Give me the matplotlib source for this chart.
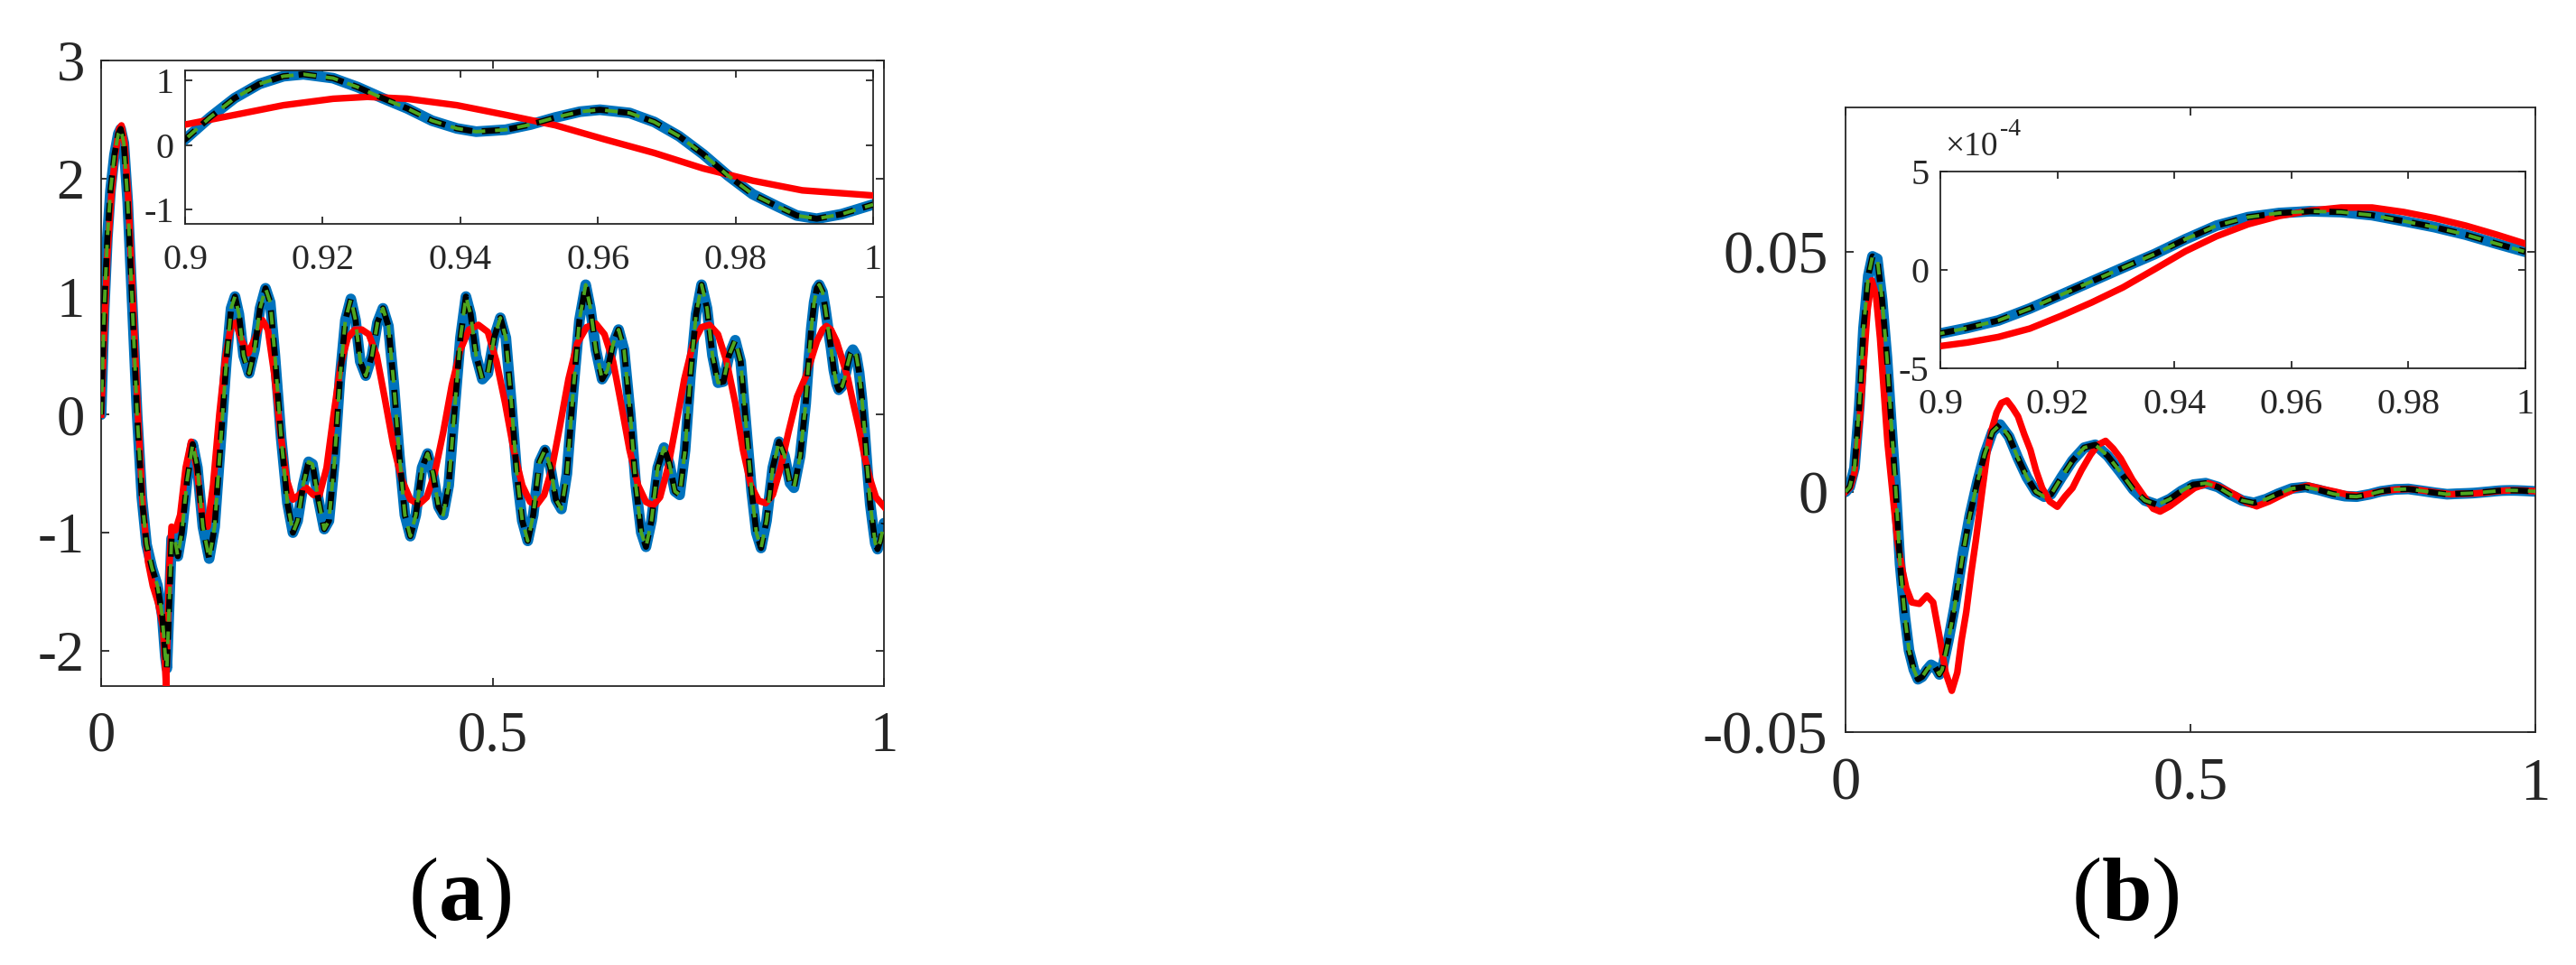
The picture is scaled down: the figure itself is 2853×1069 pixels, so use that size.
import numpy as np
import matplotlib
matplotlib.use('Agg')
import matplotlib.pyplot as plt
from matplotlib.ticker import FixedLocator, FuncFormatter

plt.rcParams['font.family'] = ['Liberation Serif', 'DejaVu Serif']
plt.rcParams['axes.unicode_minus'] = False
plt.rcParams['mathtext.fontset'] = 'custom'
plt.rcParams['mathtext.rm'] = 'Liberation Serif'
plt.rcParams['mathtext.bf'] = 'Liberation Serif:bold'

# ---------------- data: panel (a) ----------------
x_a_ref = [0.000, 0.004, 0.008, 0.012, 0.017, 0.022, 0.025, 0.029, 0.034, 0.040,
           0.046, 0.052, 0.058, 0.065, 0.072, 0.078, 0.082, 0.084, 0.087, 0.090,
           0.094, 0.098, 0.103, 0.110, 0.117, 0.123, 0.130, 0.138, 0.145, 0.152,
           0.160, 0.166, 0.171, 0.176, 0.182, 0.189, 0.196, 0.203, 0.210, 0.216,
           0.222, 0.230, 0.238, 0.245, 0.251, 0.258, 0.265, 0.270, 0.277, 0.285,
           0.291, 0.298, 0.305, 0.312, 0.319, 0.325, 0.331, 0.338, 0.346, 0.353,
           0.360, 0.367, 0.374, 0.381, 0.388, 0.395, 0.402, 0.410, 0.417, 0.424,
           0.431, 0.437, 0.444, 0.451, 0.459, 0.466, 0.472, 0.479, 0.487, 0.494,
           0.502, 0.510, 0.517, 0.524, 0.531, 0.538, 0.545, 0.552, 0.560, 0.567,
           0.574, 0.581, 0.588, 0.595, 0.603, 0.611, 0.619, 0.625, 0.632, 0.640,
           0.647, 0.654, 0.661, 0.668, 0.676, 0.683, 0.690, 0.696, 0.703, 0.711,
           0.719, 0.726, 0.733, 0.739, 0.746, 0.753, 0.760, 0.767, 0.774, 0.781,
           0.788, 0.795, 0.802, 0.810, 0.817, 0.824, 0.831, 0.837, 0.843, 0.850,
           0.858, 0.866, 0.873, 0.880, 0.885, 0.893,
           0.9000, 0.9036, 0.9072, 0.9108, 0.9143, 0.9172, 0.9215, 0.9251, 0.9287,
           0.9323, 0.9359, 0.9395, 0.9423, 0.9466, 0.9502, 0.9538, 0.9574, 0.9603,
           0.9646, 0.9682, 0.9718, 0.9753, 0.9789, 0.9825, 0.9861, 0.9889, 0.9918,
           0.9954, 1.0000]
y_a_ref = [0.00, 0.90, 1.50, 1.90, 2.20, 2.38, 2.42, 2.30, 1.80, 0.90,
           0.00, -0.70, -1.10, -1.30, -1.45, -1.70, -2.05, -2.15, -1.60, -1.05,
           -1.05, -1.20, -1.00, -0.55, -0.25, -0.45, -0.95, -1.22, -0.95, -0.30,
           0.45, 0.90, 1.00, 0.85, 0.50, 0.35, 0.55, 0.90, 1.07, 0.95,
           0.50, -0.20, -0.75, -1.00, -0.90, -0.60, -0.40, -0.42, -0.70, -0.97,
           -0.90, -0.40, 0.30, 0.80, 0.98, 0.80, 0.45, 0.33, 0.50, 0.78,
           0.90, 0.75, 0.25, -0.35, -0.85, -1.03, -0.85, -0.45, -0.33, -0.50,
           -0.78, -0.85, -0.60, 0.00, 0.65, 1.00, 0.85, 0.50, 0.30, 0.35,
           0.65, 0.82, 0.65, 0.10, -0.50, -0.90, -1.07, -0.85, -0.40, -0.30,
           -0.45, -0.72, -0.80, -0.50, 0.20, 0.80, 1.10, 0.90, 0.55, 0.30,
           0.38, 0.60, 0.72, 0.55, 0.00, -0.60, -1.00, -1.12, -0.90, -0.45,
           -0.28, -0.42, -0.65, -0.68, -0.30, 0.35, 0.85, 1.10, 0.90, 0.50,
           0.27, 0.28, 0.50, 0.63, 0.45, -0.10, -0.65, -1.00, -1.13, -0.90,
           -0.45, -0.23, -0.35, -0.58, -0.62, -0.35,
           0.09, 0.43, 0.73, 0.95, 1.07, 1.10, 1.04, 0.90, 0.73,
           0.57, 0.38, 0.26, 0.21, 0.24, 0.32, 0.43, 0.52, 0.55,
           0.50, 0.36, 0.14, -0.14, -0.47, -0.76, -0.95, -1.09, -1.14,
           -1.07, -0.92]

x_a_red = [0.000, 0.004, 0.008, 0.013, 0.018, 0.023, 0.026, 0.030, 0.035, 0.041,
           0.047, 0.053, 0.060, 0.066, 0.073, 0.079, 0.083, 0.087, 0.090, 0.095,
           0.101, 0.108, 0.115, 0.122, 0.129, 0.136, 0.143, 0.151, 0.159, 0.166,
           0.172, 0.180, 0.188, 0.197, 0.206, 0.213, 0.221, 0.229, 0.237, 0.245,
           0.253, 0.262, 0.271, 0.279, 0.288, 0.297, 0.306, 0.315, 0.324, 0.333,
           0.342, 0.352, 0.362, 0.373, 0.384, 0.395, 0.406, 0.416, 0.426, 0.437,
           0.448, 0.459, 0.470, 0.482, 0.494, 0.505, 0.516, 0.527, 0.538, 0.548,
           0.557, 0.566, 0.576, 0.586, 0.597, 0.608, 0.620, 0.632, 0.643, 0.654,
           0.664, 0.675, 0.686, 0.696, 0.705, 0.714, 0.724, 0.734, 0.745, 0.756,
           0.767, 0.777, 0.788, 0.799, 0.810, 0.820, 0.830, 0.840, 0.849, 0.858,
           0.868, 0.878, 0.889,
           0.9000, 0.9072, 0.9143, 0.9215, 0.9265, 0.9323, 0.9395, 0.9466, 0.9538,
           0.9610, 0.9682, 0.9753, 0.9825, 0.9897, 1.0000]
y_a_red = [0.00, 0.70, 1.35, 1.85, 2.20, 2.42, 2.45, 2.30, 1.80, 0.90,
           0.00, -0.75, -1.25, -1.45, -1.60, -1.80, -2.30, -1.30, -0.95, -0.98,
           -0.85, -0.45, -0.23, -0.45, -0.85, -0.95, -0.60, 0.00, 0.50, 0.75,
           0.78, 0.62, 0.52, 0.65, 0.80, 0.72, 0.35, -0.15, -0.55, -0.72,
           -0.68, -0.62, -0.68, -0.68, -0.45, 0.00, 0.42, 0.65, 0.72, 0.72,
           0.68, 0.50, 0.15, -0.25, -0.55, -0.72, -0.76, -0.70, -0.50, -0.15,
           0.25, 0.55, 0.72, 0.76, 0.70, 0.45, 0.10, -0.30, -0.60, -0.74,
           -0.76, -0.68, -0.45, -0.10, 0.30, 0.60, 0.74, 0.77, 0.68, 0.45,
           0.10, -0.30, -0.60, -0.74, -0.77, -0.70, -0.45, -0.10, 0.30, 0.60,
           0.74, 0.76, 0.68, 0.45, 0.10, -0.30, -0.60, -0.73, -0.75, -0.68,
           -0.45, -0.15, 0.15,
           0.32, 0.47, 0.62, 0.72, 0.75, 0.72, 0.62, 0.47, 0.31,
           0.09, -0.12, -0.36, -0.55, -0.70, -0.78]

# ---------------- data: panel (b) ----------------
x_b_ref_main = [0.000, 0.006, 0.013, 0.020, 0.026, 0.033, 0.039, 0.046, 0.053, 0.060,
                0.066, 0.073, 0.079, 0.086, 0.092, 0.099, 0.105, 0.111, 0.118, 0.124,
                0.130, 0.136, 0.140, 0.149, 0.158, 0.170, 0.180, 0.191, 0.202, 0.213,
                0.224, 0.237, 0.250, 0.263, 0.276, 0.288, 0.298, 0.313, 0.329, 0.346,
                0.362, 0.380, 0.399, 0.417, 0.434, 0.452, 0.470, 0.487, 0.504, 0.522,
                0.540, 0.557, 0.575, 0.592, 0.610, 0.627, 0.647, 0.667, 0.686, 0.706,
                0.724, 0.741, 0.760, 0.776, 0.796, 0.816, 0.836, 0.855, 0.872, 0.885]
y_b_ref_main = [0.0, 0.001, 0.005, 0.018, 0.034, 0.045, 0.049, 0.0485, 0.040, 0.028,
                0.015, 0.000, -0.015, -0.026, -0.033, -0.037, -0.039, -0.0385, -0.037, -0.036,
                -0.0365, -0.038, -0.037, -0.031, -0.024, -0.013, -0.005, 0.002, 0.008, 0.0125,
                0.014, 0.0115, 0.007, 0.003, 0.000, -0.001, -0.0005, 0.003, 0.0065, 0.0092,
                0.0098, 0.0075, 0.004, 0.0005, -0.0018, -0.0027, -0.0015, 0.0002, 0.0015, 0.0018,
                0.001, -0.0005, -0.0018, -0.0023, -0.0015, -0.0004, 0.0007, 0.001, 0.0004, -0.0004,
                -0.0009, -0.001, -0.0005, 0.0001, 0.0005, 0.0006, 0.0002, -0.0002, -0.0005, -0.0004]
x_b_tail = [0.9000, 0.9046, 0.9099, 0.9153, 0.9206, 0.9259, 0.9312, 0.9366, 0.9419, 0.9472,
            0.9526, 0.9579, 0.9632, 0.9685, 0.9738, 0.9792, 0.9845, 0.9898, 0.9951, 1.0000]
y_b_ref_tail_e4 = [-3.23, -2.95, -2.57, -1.96, -1.27, -0.58, 0.11, 0.80, 1.56, 2.25,
                   2.68, 2.89, 2.98, 2.94, 2.78, 2.48, 2.17, 1.79, 1.33, 0.92]

x_b_red_main = [0.000, 0.007, 0.013, 0.020, 0.026, 0.032, 0.038, 0.044, 0.050, 0.055,
                0.061, 0.068, 0.075, 0.082, 0.088, 0.096, 0.107, 0.118, 0.127, 0.136,
                0.145, 0.154, 0.162, 0.168, 0.175, 0.182, 0.189, 0.197, 0.206, 0.212,
                0.219, 0.226, 0.234, 0.242, 0.250, 0.259, 0.268, 0.276, 0.285, 0.296,
                0.307, 0.318, 0.329, 0.342, 0.355, 0.366, 0.377, 0.388, 0.399, 0.416,
                0.434, 0.446, 0.456, 0.470, 0.487, 0.506, 0.526, 0.546, 0.566, 0.581,
                0.596, 0.614, 0.632, 0.651, 0.671, 0.691, 0.711, 0.728, 0.746, 0.763,
                0.781, 0.800, 0.820, 0.840, 0.860, 0.878, 0.890]
y_b_red_main = [0.0, 0.001, 0.004, 0.014, 0.026, 0.038, 0.044, 0.041, 0.032, 0.022,
                0.010, 0.000, -0.010, -0.016, -0.020, -0.023, -0.0233, -0.0216, -0.023, -0.030,
                -0.0376, -0.0414, -0.0376, -0.031, -0.025, -0.017, -0.010, -0.001, 0.0087, 0.013,
                0.0165, 0.0185, 0.019, 0.0175, 0.0157, 0.012, 0.0087, 0.0045, 0.0008, -0.002,
                -0.0031, -0.001, 0.0008, 0.0045, 0.0077, 0.0098, 0.0106, 0.009, 0.0069, 0.0025,
                -0.0012, -0.0035, -0.0041, -0.003, -0.0012, 0.0008, 0.0018, 0.0008, -0.0007, -0.0022,
                -0.003, -0.002, -0.0007, 0.0006, 0.0013, 0.0006, 0.0, -0.0006, -0.0008, -0.0003,
                0.0002, 0.0005, 0.0006, 0.0002, -0.0002, -0.0005, -0.0004]
y_b_red_tail_e4 = [-3.87, -3.69, -3.41, -2.98, -2.34, -1.65, -0.89, 0.03, 0.95, 1.71,
                   2.32, 2.74, 3.01, 3.17, 3.17, 2.94, 2.63, 2.25, 1.79, 1.33]

x_ticks_main = [0, 0.5, 1]
x_ticks_inset = [0.9, 0.92, 0.94, 0.96, 0.98, 1.0]
y_ticks_a = [-2, -1, 0, 1, 2, 3]
y_ticks_a_inset = [-1, 0, 1]
y_ticks_b = [-0.05, 0, 0.05]
y_ticks_b_inset_e4 = [-5, 0, 5]
panel_labels = ['a', 'b']

# ---------------- styling ----------------
BLUE = '#0072BD'
RED = '#FF0000'
GREEN = '#4DA51F'
AXC = '#262626'

W, H = 2853, 1069
fig = plt.figure(figsize=(W / 100, H / 100), dpi=100)


def ax_px(x0, y0, x1, y1):
    return fig.add_axes([x0 / W, 1 - y1 / H, (x1 - x0) / W, (y1 - y0) / H])


def draw(ax, xr, yr, xd, yd):
    ax.plot(xr, yr, color=BLUE, lw=8.5, solid_capstyle='round',
            solid_joinstyle='round', zorder=2)
    ax.plot(xd, yd, color=RED, lw=5.3, solid_joinstyle='round', zorder=3)
    ax.plot(xr, yr, color='black', lw=4.8, dashes=(3.0, 1.6), zorder=4)
    ax.plot(xr, yr, color=GREEN, lw=2.8, dashes=(3.6, 2.8), zorder=5)


def style(ax, fs, ylen, xpad, ypad):
    for s in ax.spines.values():
        s.set_color(AXC)
        s.set_linewidth(1.3)
    ax.tick_params(direction='in', top=True, right=True, length=ylen, width=1.3,
                   colors=AXC, labelsize=fs)
    ax.tick_params(axis='x', pad=xpad)
    ax.tick_params(axis='y', pad=ypad)


fmt = FuncFormatter(lambda v, p: '%g' % round(v, 6))

# ---- panel (a) main
axa = ax_px(112, 67, 979, 760)
draw(axa, x_a_ref, y_a_ref, x_a_red, y_a_red)
axa.set_xlim(0, 1)
axa.set_ylim(-2.3, 3)
axa.xaxis.set_major_locator(FixedLocator(x_ticks_main))
axa.yaxis.set_major_locator(FixedLocator(y_ticks_a))
axa.xaxis.set_major_formatter(fmt)
axa.yaxis.set_major_formatter(fmt)
style(axa, 45, 6.5, 20, 13)

# ---- panel (a) inset
axai = ax_px(205, 78, 967, 248)
draw(axai, x_a_ref, y_a_ref, x_a_red, y_a_red)
axai.set_xlim(0.9, 1)
axai.set_ylim(-1.22, 1.16)
axai.xaxis.set_major_locator(FixedLocator(x_ticks_inset))
axai.yaxis.set_major_locator(FixedLocator(y_ticks_a_inset))
axai.xaxis.set_major_formatter(fmt)
axai.yaxis.set_major_formatter(fmt)
style(axai, 29, 5.5, 16, 9)

# ---- panel (b) main
xb_ref = x_b_ref_main + x_b_tail
yb_ref = y_b_ref_main + [v * 1e-4 for v in y_b_ref_tail_e4]
xb_red = x_b_red_main + x_b_tail
yb_red = y_b_red_main + [v * 1e-4 for v in y_b_red_tail_e4]

axb = ax_px(2044, 119, 2808, 811)
draw(axb, xb_ref, yb_ref, xb_red, yb_red)
axb.set_xlim(0, 1)
axb.set_ylim(-0.05, 0.08)
axb.xaxis.set_major_locator(FixedLocator(x_ticks_main))
axb.yaxis.set_major_locator(FixedLocator(y_ticks_b))
axb.xaxis.set_major_formatter(fmt)
axb.yaxis.set_major_formatter(fmt)
style(axb, 48, 6.5, 20, 14)

# ---- panel (b) inset
axbi = ax_px(2149, 190, 2797, 408)
draw(axbi, xb_ref, yb_ref, xb_red, yb_red)
axbi.set_xlim(0.9, 1)
axbi.set_ylim(-5e-4, 5e-4)
axbi.xaxis.set_major_locator(FixedLocator(x_ticks_inset))
axbi.yaxis.set_major_locator(FixedLocator([v * 1e-4 for v in y_ticks_b_inset_e4]))
axbi.xaxis.set_major_formatter(fmt)
axbi.yaxis.set_major_formatter(FuncFormatter(lambda v, p: '%g' % round(v / 1e-4, 6)))
style(axbi, 29, 5.5, 16, 9)
t10 = fig.text(2154 / W, 1 - 172 / H, '\u00d710', fontsize=27, color=AXC,
               ha='left', va='baseline')
fig.canvas.draw()
bb = t10.get_window_extent()
fig.text((bb.x1 + 3) / W, 1 - 150 / H, '-4', fontsize=20, color=AXC,
         ha='left', va='baseline')

# ---- panel labels
fig.text(509 / W, 1 - 995 / H, '($\\mathbf{%s}$)' % panel_labels[0], fontsize=72,
         ha='center', va='center', color='black')
fig.text(2354 / W, 1 - 995 / H, '($\\mathbf{%s}$)' % panel_labels[1], fontsize=72,
         ha='center', va='center', color='black')

fig.savefig('out.png', dpi=100, facecolor='white')
